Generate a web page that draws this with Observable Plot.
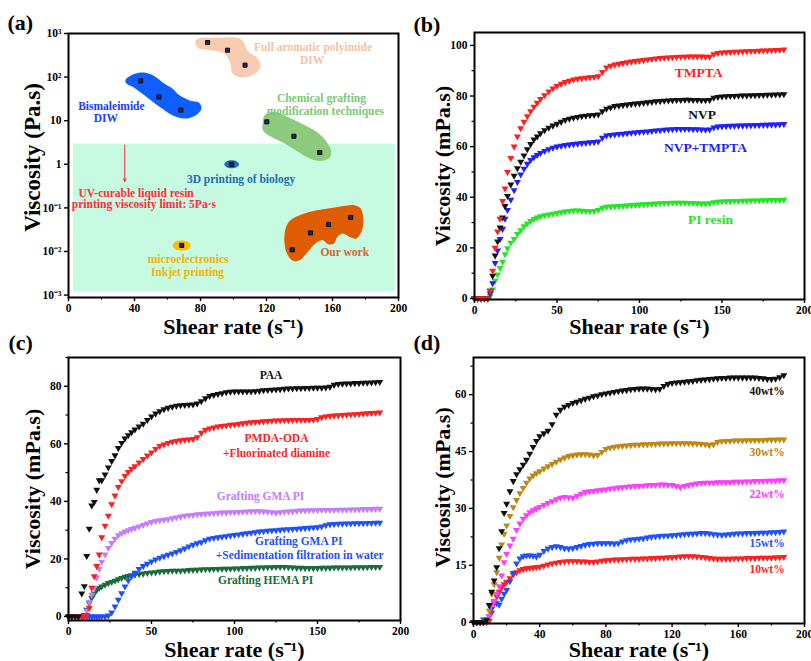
<!DOCTYPE html>
<html><head><meta charset="utf-8">
<script src="https://cdn.jsdelivr.net/npm/d3@7"></script>
<script src="https://cdn.jsdelivr.net/npm/@observablehq/plot@0.6"></script>
<style>
html,body{margin:0;padding:0;background:#fff;}
#root{position:relative;width:811px;height:661px;overflow:hidden;background:#fff;}
.panel{position:absolute;}
.panel svg{overflow:visible;}
</style></head><body><div id="root"></div>
<script>
// ---------- shared shear-rate sampling (s^-1) ----------
const shear = [0,2,4,6,8,
  9.5,11,12.5,14,15.5,17,18.5,
  20,22,24,26,28,30,32,34,36,38,40,
  42.5,45,47.5,50,52.5,55,57.5,60,62.5,65,67.5,70,72.5,75,77.5,80,82.5,85,87.5,90,92.5,95,97.5,100,
  102.5,105,107.5,110,112.5,115,117.5,120,122.5,125,127.5,130,132.5,135,137.5,140,142.5,145,147.5,150,152.5,155,157.5,160,162.5,165,167.5,170,172.5,175,177.5,180,182.5,185,187.5];

// ---------- panel (b) ----------
const tmpta = [0,0,0,0,0, 3,11,20,26.5,31.5,38.5,43.5,
  50,55.5,60,64,67.3,69.8,72,74,75.8,77.3,78.8,
  80.3,81.8,83,84,84.8,85.5,86,86.5,86.8,87,87.2,87.4,87.5,87.8,89.5,91.3,92,92.4,92.7,93,93.3,93.6,93.8,94,
  94.2,94.4,94.6,94.8,95,95.1,95.2,95.3,95.4,95.5,95.5,95.6,95.6,95.6,95.6,95.5,95.5,96.5,97,97.2,97.3,97.4,97.5,97.5,97.6,97.7,97.8,97.8,97.9,98,98,98.1,98.2,98.2,98.4];
const nvp = [0,0,0,0,0, 3,9,17,22.5,28,32,36.5,
  40.5,45,48.5,51.5,54,56.5,59,61,62.8,64,65.3,
  66.5,67.5,68.3,69,69.8,70.5,71,71.4,71.7,72,72.2,72.4,72.5,72.7,74,75,75.5,76,76.2,76.4,76.6,76.8,77,77.1,
  77.3,77.5,77.7,77.9,78,78.1,78.2,78.3,78.4,78.4,78.5,78.5,78.4,78.4,78.3,78.3,78.4,79.3,79.6,79.8,79.9,80,80,80.1,80.2,80.2,80.3,80.3,80.4,80.4,80.5,80.5,80.6,80.6,80.7];
const nvpTmpta = [0,0,0,0,0, 2,6,14,19,23.5,27.5,31.5,
  35,39,42.8,46,49,51.3,53.2,54.7,55.8,56.7,57.5,
  58.3,59,59.6,60,60.3,60.6,60.8,61,61.2,61.4,61.5,61.7,61.8,62,63.5,64.4,64.6,64.8,65,65.1,65.3,65.5,65.6,65.8,
  65.9,66,66.2,66.4,66.5,66.7,66.8,66.9,67,67,67,67,66.9,66.9,66.8,66.7,66.8,67.6,67.9,68,68.1,68.2,68.2,68.3,68.3,68.4,68.4,68.5,68.5,68.6,68.6,68.7,68.7,68.8,68.9];
const piResin = [0,0,0,0,0, 1,3.5,7,9.5,12,14.5,17.5,
  19.8,22,23.5,25.5,27,28.5,29.6,30.6,31.4,32,32.5,
  32.9,33.2,33.5,33.8,34.1,34.4,34.6,34.8,34.8,34.7,34.6,34.5,34.6,35,35.8,36.2,36.3,36.4,36.5,36.6,36.7,36.9,37,37.1,
  37.2,37.3,37.4,37.5,37.6,37.7,37.7,37.8,37.8,37.8,37.8,37.7,37.7,37.6,37.5,37.5,37.6,38,38.2,38.3,38.4,38.4,38.5,38.5,38.6,38.6,38.7,38.7,38.7,38.8,38.8,38.9,38.9,38.9,39];
const bNames = ["TMPTA","NVP","NVP+TMPTA","PI resin"];
const bColors = ["#ff1f1f","#111111","#1f1fff","#22e622"];
const bLabelX = [135.8,138,140,143];
const bLabelY = [89.3,72.7,59.7,31.2];

// ---------- panel (c) ----------
const paa = [0,0,0,0,8, 10.5,21,30.5,38.6,39.8,44,47.3,
  47.3,49.3,51.8,54,56,58.5,60.3,61.8,63,64,65,
  66,67,68.3,69.5,70.5,71.3,72,72.5,72.9,73.2,73.4,73.5,73.6,73.7,74,74.8,75.8,76.6,77,77.3,77.6,77.9,78.1,78.2,
  78.2,78.2,78.2,78.2,78.3,78.4,78.6,78.7,78.8,78.9,79,79.1,79.2,79.2,79.3,79.3,79.4,79.4,79.5,79.5,79.5,79.6,79.8,80.5,80.8,80.9,81,81,81.1,81.1,81.2,81.2,81.3,81.4,81.5];
const pmdaOda = [0,0,0,0,0, 0,0.5,3,10,14,17.5,21.5,
  27.5,31.5,35,39,42,45,47,48.8,50.2,51.3,52.2,
  53.5,54.7,55.9,57,58.2,59.2,59.8,60.3,60.7,61,61.2,61.4,61.5,61.7,62.3,63.8,64.8,65.3,65.7,66,66.2,66.4,66.6,66.7,
  66.9,67.1,67.3,67.5,67.6,67.7,67.8,67.9,68,68.1,68.1,68.2,68.2,68.3,68.3,68.3,68.3,68.3,68.4,68.6,69.2,69.5,69.7,69.8,69.9,70,70.1,70.2,70.3,70.4,70.5,70.6,70.7,70.8,70.9];
const gmaPI = [0,0,0,0,0, 0,2,5,7.5,10,13.5,16.5,
  19,21.5,23.8,25.5,27,28.2,28.9,29.5,30,30.4,30.8,
  31.3,31.8,32.3,32.8,33.2,33.4,33.6,33.8,34.1,34.4,34.7,35,35.2,35.3,35.5,35.6,35.7,35.8,35.9,36,36.1,36.1,36.2,36.2,
  36.3,36.4,36.5,36.6,36.6,36.6,36.5,36.4,36.2,36,36.2,36.4,36.5,36.6,36.7,36.8,36.8,36.9,36.9,36.9,37,37,37,37,37.1,37.1,37.1,37.2,37.2,37.2,37.3,37.3,37.3,37.4,37.4];
const gmaSed = [0,0,0,0,0, 0,0,0,0,0,0,0,
  0,0,0.3,1.4,3.5,5.8,8.1,10.4,12.5,14,15.2,
  16.5,17.5,18.3,19.1,19.8,20.4,20.9,21.4,21.9,22.4,23,23.6,24.3,24.9,25.4,25.8,26.5,27,27.3,27.5,27.7,27.9,28.1,28.3,
  28.5,28.7,28.9,29.1,29.3,29.5,29.6,29.8,29.9,30,30.1,30.2,30.3,30.4,30.5,30.6,30.7,30.8,30.9,31,31.3,31.7,32,32.1,32.2,32.2,32.3,32.3,32.4,32.4,32.4,32.5,32.5,32.6,32.6];
const hemaPI = [0,0,0,0,0, 0.5,2.3,4.6,6.4,8,9.2,9.9,
  10.4,11,11.6,12,12.4,12.9,13.4,13.8,14.1,14.3,14.5,
  14.7,14.9,15.1,15.3,15.4,15.6,15.7,15.8,15.9,15.9,15.9,16,16.1,16.2,16.2,16.3,16.4,16.4,16.5,16.5,16.6,16.6,16.6,16.7,
  16.7,16.8,16.8,16.9,16.9,17,17,17.1,17.1,17.2,17.2,17.2,17.1,17,16.9,16.9,16.8,16.8,16.8,16.8,16.9,16.9,16.9,17,17,17,17,17,17.1,17.1,17.1,17.1,17.2,17.2,17.2];
const cColors = ["#111111","#ff1f1f","#c27cff","#1f4fff","#1a6b3c"];
const cLabels = ["PAA","PMDA-ODA","+Fluorinated diamine","Grafting GMA PI","Grafting GMA PI","+Sedimentation filtration in water","Grafting HEMA PI"];
const cLabelX = [122,125.3,125.3,115.7,138.7,139.3,118.7];
const cLabelY = [83.8,61.8,56.8,41.8,26.1,21.2,12.5];
const cLabelColor = ["#111111","#ff1f1f","#ff1f1f","#c27cff","#1f4fff","#1f4fff","#1a6b3c"];

// ---------- panel (d) ----------
const wt40 = [0,0,0,0,0.5, 4.5,8,11,14.5,19.5,24,28.8,
  31.2,34.5,37.2,39,40.3,41.5,42.8,44.4,46.2,47.8,49,
  49.8,50.5,52.2,54.7,56,56.8,57.3,57.8,58.1,58.5,58.9,59.2,59.6,59.8,60.1,60.3,60.5,60.7,60.9,61.1,61.2,61.4,61.5,61.6,
  61.6,61.6,61.5,61.4,61.5,62.3,62.8,63.1,63.2,63.3,63.4,63.5,63.6,63.8,63.9,64,64.1,64.2,64.3,64.4,64.4,64.5,64.5,64.5,64.5,64.5,64.5,64.5,64.4,64.3,64.1,64.1,64.2,64.6,65.1];
const wt30 = [0,0,0,0,0.5, 3,7.5,10,13.2,17,20.5,23.3,
  25.5,28,30.3,32.2,34,35.4,36.8,37.9,38.7,39.3,39.8,
  40.5,41.1,41.7,42.3,42.9,43.4,43.8,44,44.2,44.3,44.3,44.2,44,44.1,44.9,45.7,46,46.2,46.4,46.5,46.6,46.7,46.8,46.8,
  46.9,46.9,47,47,47.1,47.1,47.1,47.2,47.2,47.2,47.2,47.2,47.1,47.1,47,46.9,46.7,46.9,47.5,47.7,47.8,47.8,47.9,47.9,47.9,48,48,48,48,48,48.1,48.1,48.1,48.2,48.2];
const wt22 = [0,0,0,0,0, 1.5,4.5,5.5,7.5,9.5,12.3,15.8,
  18,20.2,22,24.3,26,27.3,28.2,29,29.5,30,30.4,
  30.9,31.4,31.9,32.4,32.8,33,32.9,32.8,33.3,33.9,34.3,34.5,34.6,34.8,34.9,35,35.2,35.3,35.5,35.6,35.7,35.8,35.9,35.9,
  36,36.1,36.2,36.2,36.3,36.3,36.2,36.2,35.9,35.6,35.9,36.2,36.4,36.6,36.7,36.8,36.8,36.8,36.9,36.9,36.9,36.9,37,37,37,37.1,37.1,37.2,37.2,37.2,37.3,37.3,37.3,37.4,37.4];
const wt15 = [0,0,0,0.7,0.8, 1.5,3.5,5.5,5,4.6,6.2,7.5,
  8.5,10.8,13,15.5,16.8,17.4,17.6,17.6,17.5,17.3,17.8,
  18.8,19.4,19.8,20,19.8,19.5,19.4,19.5,19.8,20.1,20.4,20.6,20.7,20.8,20.8,20.8,20.8,20.7,20.8,21.3,21.6,21.8,21.9,22,
  22.1,22.3,22.5,22.6,22.7,22.8,22.8,22.9,23,23.1,23.2,23.3,23.3,23.4,23.5,23.5,23.4,23.2,23.1,23,23.1,23.2,23.3,23.4,23.4,23.5,23.5,23.5,23.6,23.6,23.6,23.7,23.7,23.8,23.9];
const wt10 = [0,0,0,0,0, 0.3,2.5,5,6.8,8,9.2,10,
  10.6,11.6,12.5,13.2,13.7,14,14.2,14.3,14.4,14.5,14.6,
  14.9,15.2,15.5,15.7,15.9,16,16.1,16.1,16.1,16,16,15.9,15.9,16,16.2,16.3,16.4,16.5,16.5,16.6,16.6,16.7,16.7,16.7,
  16.8,16.8,16.9,16.9,17,17,17.1,17.1,17.2,17.3,17.4,17.4,17.4,17.3,17.2,17.1,16.9,16.8,16.7,16.7,16.7,16.7,16.8,16.8,16.8,16.9,16.9,16.9,17,17,17,17,17.1,17.1,17.2];
const dNames = ["40wt%","30wt%","22wt%","15wt%","10wt%"];
const dColors = ["#111111","#bf8612","#ff3cff","#1f4fff","#ff1f1f"];
const dLabelY = [60.9,44.9,33.7,20.7,13.9];

// ---------- panel (a) ----------
const aPointX = [84.3,96.4,107, 43.7,54.8,68, 120.2,136.6,152.3, 98.9, 68.6, 135.6,146.7,157.6,171];
const aPointY = [620,414,188, 82,35,17.5, 9.4,4.4,1.86, 1.0, 0.0138, 0.0109,0.0267,0.0416,0.0603];
const blobFullAromatic = [[77.2,703],[80.2,795],[90.4,795],[102.5,795],[106.2,644],[108.2,415],[114.7,267],[116.3,172],[112.7,117],[104.6,98],[99.5,121],[98,205],[94.4,347],[86.3,415],[79.2,453],[76.8,589]];
const blobBismaleimide = [[34.5,85],[39.6,117],[45.7,127],[52.2,105],[57.9,71],[62.9,55],[67,38.6],[73.1,29.6],[79.2,25.7],[80.6,19],[77.2,13.4],[70,11.2],[62.9,13.4],[55.8,20],[47.7,34],[39.6,57.5],[35.1,71]];
const blobChemical = [[118.8,13.4],[124.9,16],[132,12.7],[141.1,8.63],[150.3,5.56],[155.7,3.58],[159,2.11],[158.4,1.43],[153.3,1.2],[146.2,1.36],[139.1,1.93],[131,3.0],[122.8,4.27],[117.8,6.07],[117.8,9.42]];
const blobBiology = [[94.4,1],[95.6,1.15],[98.9,1.236],[102.1,1.15],[103.4,1],[102.1,0.869],[98.9,0.809],[95.6,0.869]];
const blobInkjet = [[63.1,0.01374],[64.8,0.01667],[68.6,0.0179],[72.5,0.01667],[74.1,0.01374],[72.5,0.01132],[68.6,0.01054],[64.8,0.01132]];
const blobOurWork = [[131.9,0.0367],[135,0.0542],[143,0.0745],[153.2,0.0918],[163.3,0.1054],[173.4,0.1153],[177.1,0.0968],[178.7,0.0523],[177.5,0.0282],[174.5,0.0199],[170.4,0.0216],[166.4,0.0259],[162.9,0.0216],[160.9,0.0152],[157.3,0.0147],[154.2,0.0182],[149.1,0.0147],[145.1,0.0098],[140,0.0063],[136,0.0061],[132.5,0.0087],[130.8,0.0182]];
const blobColors = ["#f9ccb2","#0f5fff","#8ccb7e","#1f6db3","#ffbb00","#e05c00"];
const aZone = [{x1: 3, x2: 198.2, y1: 0.00117, y2: 2.9}];
const aArrow = [{x: 34.1, y1: 2.75, y2: 0.4}];
const aLabelText = ["Full aromatic polyimide","DIW","Bismaleimide","DIW","Chemical grafting","modification techniques","3D printing of biology","UV-curable liquid resin","printing viscosity limit: 5Pa·s","microelectronics","Inkjet printing","Our work"];
const aLabelX = [148.2,147.6,26,22.7,153.3,155.7,104.6,41,45.7,72.5,72.1,167.4];
const aLabelY = [493,245,21.5,11.3,32.3,16.6,0.46,0.22,0.12,0.0066,0.0033,0.0095];
const aLabelColor = ["#f5c2a4","#f5c2a4","#1e3cff","#1e3cff","#7cc774","#7cc774","#1b6db3","#ff2a3c","#ff2a3c","#f2b200","#f2b200","#d8642c"];
const aYTicks = [0.001,0.01,0.1,1,10,100,1000];
const aYTickLabels = ["10⁻³","10⁻²","10⁻¹","1","10","10²","10³"];

// ---------- checks ----------
const allSeries = {tmpta,nvp,nvpTmpta,piResin,paa,pmdaOda,gmaPI,gmaSed,hemaPI,wt40,wt30,wt22,wt15,wt10};
for (const [k,v] of Object.entries(allSeries)) if (v.length !== shear.length) throw new Error(k+" length "+v.length+" vs "+shear.length);

// ---------- helpers ----------
const root = document.getElementById("root");
const FONT = '"Liberation Serif","Times New Roman",serif';
const triDown = {draw(ctx, size){const k=Math.sqrt(size/(3*Math.sqrt(3))); const s=Math.sqrt(3)*k; ctx.moveTo(0,2*k); ctx.lineTo(s,-k); ctx.lineTo(-s,-k); ctx.closePath();}};
function mount(svg, left, top){const d=document.createElement("div"); d.className="panel"; d.style.left=left+"px"; d.style.top=top+"px"; d.appendChild(svg); root.appendChild(d);}
function rows(vals){return shear.map((x,i)=>({x, y: vals[i]}));}
function series(vals, color){return Plot.dot(rows(vals), {x:"x", y:"y", symbol: triDown, r: 2.6, fill: color, stroke: "none"});}
function axes(xt, xm, yt, ym, yfmt){
  const m = [
    Plot.axisX(xt, {anchor:"bottom", tickSize:4, tickPadding:2, label:null, strokeWidth:1.4, fontSize:11.5, fontWeight:"bold"}),
    Plot.axisY(yt, {anchor:"left", tickSize:4, tickPadding:3, label:null, strokeWidth:1.4, fontSize:11.5, fontWeight:"bold", ...(yfmt ? {tickFormat: yfmt} : {})})
  ];
  if (xm) m.push(Plot.axisX(xm, {anchor:"bottom", tickSize:2.5, tickFormat:()=>"", label:null, strokeWidth:1.2}));
  if (ym) m.push(Plot.axisY(ym, {anchor:"left", tickSize:2.5, tickFormat:()=>"", label:null, strokeWidth:1.2}));
  return m;
}
function titles(tag, tdx, tdy, ylab, ydx, ydy, xdy, ysize){
  return [
    Plot.text([tag], {frameAnchor:"top-left", dx:tdx, dy:tdy, textAnchor:"start", lineAnchor:"middle", fontSize:22, fontWeight:"bold"}),
    Plot.text([ylab], {frameAnchor:"left", dx:ydx, dy:ydy, rotate:-90, textAnchor:"middle", lineAnchor:"middle", fontSize:ysize, fontWeight:"bold"}),
    Plot.text(["Shear rate (s⁻¹)"], {frameAnchor:"bottom", dy:xdy, textAnchor:"middle", lineAnchor:"middle", fontSize:22, fontWeight:"bold"})
  ];
}
const svgStyle = {background:"transparent", overflow:"visible", fontFamily:FONT, fontWeight:"bold", fontSize:"12px", color:"black"};
const frame = Plot.frame({stroke:"black", strokeWidth:2});

// ---------- (a) ----------
const blobs = [blobFullAromatic, blobBismaleimide, blobChemical, blobBiology, blobInkjet, blobOurWork];
const aLabels = aLabelText.map((t,i)=>({t, x:aLabelX[i], y:aLabelY[i], c:aLabelColor[i]}));
const plotA = Plot.plot({
  width:405, height:345, marginLeft:68, marginRight:7, marginTop:33, marginBottom:48,
  style: svgStyle,
  x:{domain:[0,200]},
  y:{type:"log", domain:[0.00088,1000]},
  color:{type:"identity"},
  marks:[
    Plot.rect(aZone, {x1:"x1", x2:"x2", y1:"y1", y2:"y2", fill:"#c6fbe1"}),
    ...blobs.map((b,i)=>Plot.line(b, {x:d=>d[0], y:d=>d[1], fill:blobColors[i], stroke:"none", curve:"catmull-rom-closed"})),
    Plot.dot(aPointX.map((x,i)=>({x, y:aPointY[i]})), {x:"x", y:"y", symbol:"square", r:2.3, fill:"#1b2a66", stroke:"#000", strokeWidth:0.9}),
    Plot.arrow(aArrow, {x1:"x", x2:"x", y1:"y1", y2:"y2", stroke:"#ff2a3c", strokeWidth:1, headLength:5, headAngle:50}),
    Plot.text(aLabels, {x:"x", y:"y", text:"t", fill:"c", fontSize:11.5, fontWeight:"bold"}),
    ...axes([0,40,80,120,160,200],[20,60,100,140,180], aYTicks, null, d => aYTickLabels[aYTicks.findIndex(v => Math.abs(Math.log10(v)-Math.log10(d))<1e-6)]),
    ...titles("(a)", -61, -10.5, "Viscosity (Pa.s)", -36, -8, 29, 23),
    frame
  ]
});
mount(plotA, 0, 0);

// ---------- (b) ----------
const bSeries = [tmpta, nvp, nvpTmpta, piResin];
const bLabels = bNames.map((t,i)=>({t, x:bLabelX[i], y:bLabelY[i], c:bColors[i]}));
const plotB = Plot.plot({
  width:406, height:345, marginLeft:69, marginRight:7, marginTop:32, marginBottom:46,
  style: svgStyle,
  x:{domain:[0,200]},
  y:{domain:[-0.4,105.1]},
  color:{type:"identity"},
  marks:[
    ...[3,2,1,0].map(i=>series(bSeries[i], bColors[i])),
    Plot.text(bLabels, {x:"x", y:"y", text:"t", fill:"c", fontSize:13.5, fontWeight:"bold"}),
    ...axes([0,50,100,150,200],[25,75,125,175],[0,20,40,60,80,100],[10,30,50,70,90]),
    ...titles("(b)", -61, -8, "Viscosity (mPa.s)", -32, 0, 27, 22),
    frame
  ]
});
mount(plotB, 405, 0);

// ---------- (c) ----------
const cSeries = [paa, pmdaOda, gmaPI, gmaSed, hemaPI];
const cLab = cLabels.map((t,i)=>({t, x:cLabelX[i], y:cLabelY[i], c:cLabelColor[i]}));
const plotC = Plot.plot({
  width:405, height:336, marginLeft:68, marginRight:5, marginTop:32, marginBottom:41,
  style: svgStyle,
  x:{domain:[0,200]},
  y:{domain:[-1.4,90]},
  color:{type:"identity"},
  marks:[
    ...[4,3,2,1,0].map(i=>series(cSeries[i], cColors[i])),
    Plot.text(cLab, {x:"x", y:"y", text:"t", fill:"c", fontSize:11.5, fontWeight:"bold"}),
    ...axes([0,50,100,150,200],[25,75,125,175],[0,20,40,60,80],[10,30,50,70,90]),
    ...titles("(c)", -60, -15, "Viscosity (mPa.s)", -36, 0, 29, 22),
    frame
  ]
});
mount(plotC, 0, 325);

// ---------- (d) ----------
const dSeries = [wt40, wt30, wt22, wt15, wt10];
const dLab = dNames.map((t,i)=>({t, x:188, y:dLabelY[i], c:dColors[i]}));
const plotD = Plot.plot({
  width:406, height:336, marginLeft:68, marginRight:7, marginTop:32, marginBottom:38,
  style: svgStyle,
  x:{domain:[0,200]},
  y:{domain:[-0.34,69.8]},
  color:{type:"identity"},
  marks:[
    ...[4,3,2,1,0].map(i=>series(dSeries[i], dColors[i])),
    Plot.text(dLab, {x:"x", y:"y", text:"t", fill:"c", fontSize:11.5, fontWeight:"bold", textAnchor:"end"}),
    ...axes([0,40,80,120,160,200],[20,60,100,140,180],[0,15,30,45,60],[7.5,22.5,37.5,52.5,67.5]),
    ...titles("(d)", -60, -14.5, "Viscosity (mPa.s)", -31, -3, 26, 22),
    frame
  ]
});
mount(plotD, 405, 325);
</script></body></html>
